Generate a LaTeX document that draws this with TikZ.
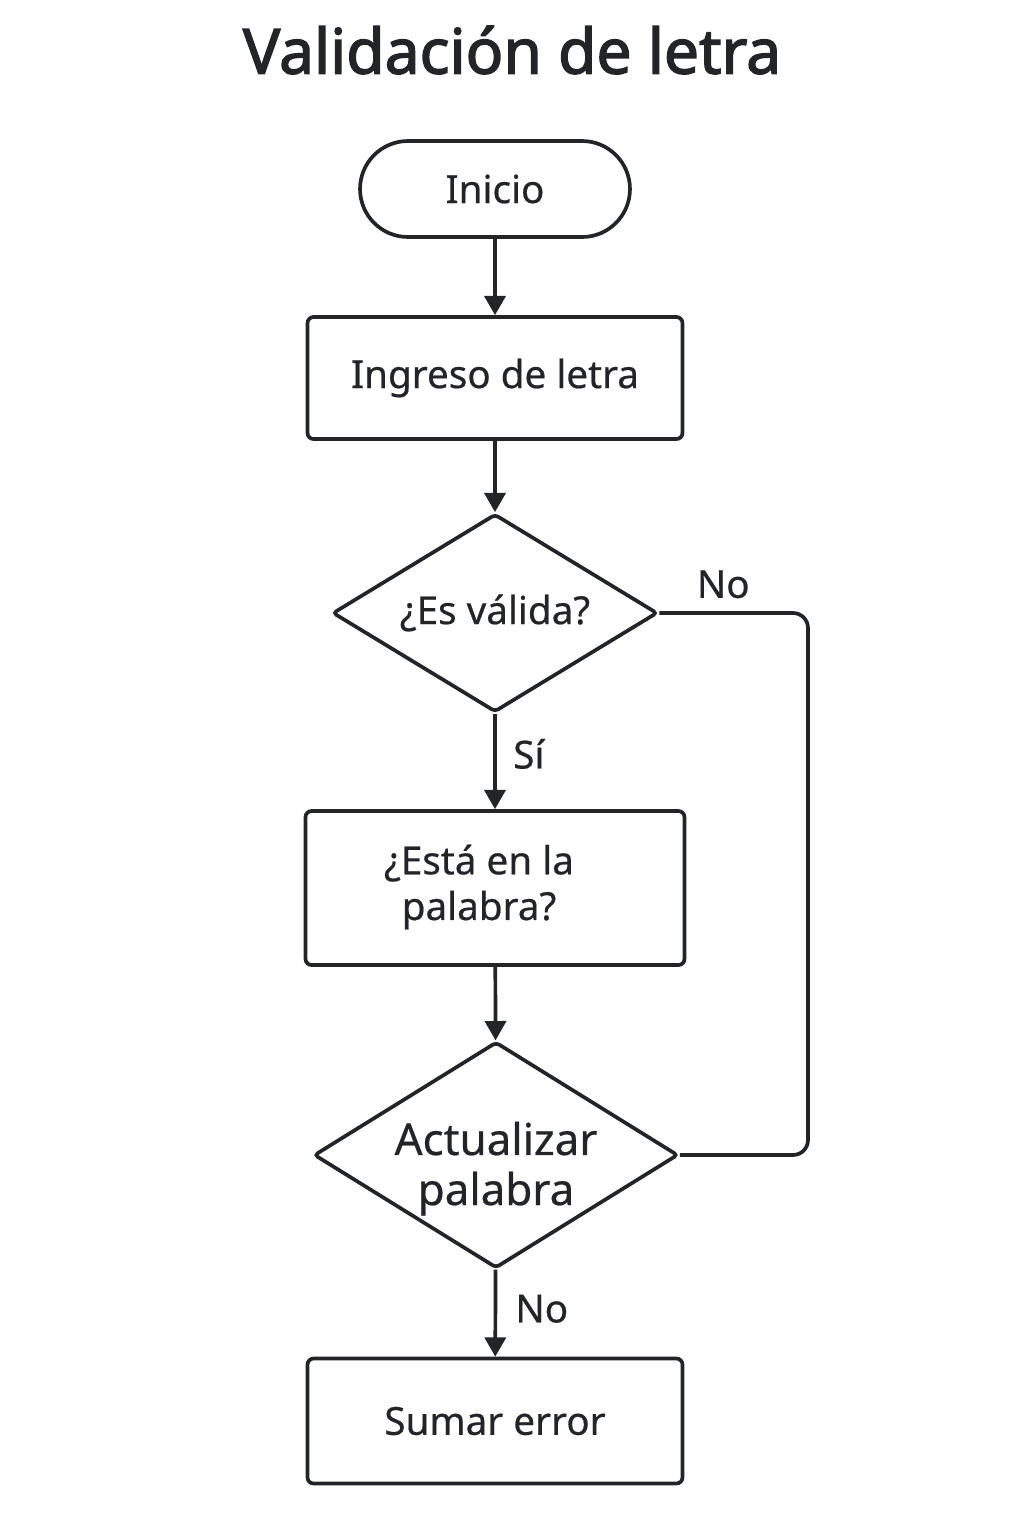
\documentclass[tikz,border=0pt]{standalone}
\usepackage{fontspec}
\setmainfont{Noto Sans}[FakeBold=0.5,UprightFeatures={FakeBold=0.5}]
\newfontfamily\titulofont{Noto Sans}[FakeBold=2.2]
\usetikzlibrary{shapes.geometric,arrows.meta}
\definecolor{trazo}{HTML}{222428}
\tikzset{
  caja/.style={draw=trazo,line width=2.1pt,rounded corners=0.12cm,
    minimum width=7.5cm,text=trazo,align=center,inner sep=0pt},
  rombo/.style={draw=trazo,line width=2.1pt,diamond,rounded corners=2pt,
    inner sep=0pt,text=trazo,align=center},
  flecha/.style={draw=trazo,line width=2.1pt,-{Triangle[length=11pt,width=12pt]}},
  etiqueta/.style={text=trazo,font=\fontsize{22}{26}\selectfont}
}
\begin{document}
\begin{tikzpicture}  % ------ Validacion de letra ---------------
      [x={(0.02cm,0cm)},y={(0cm,-0.02cm)},font=\fontsize{22}{26}\selectfont]
    \useasboundingbox (0,0) rectangle (1024,1536);
    \node[text=trazo,font=\titulofont\fontsize{35.5}{42}\selectfont] (titulo) at (512,50) {Validación de letra};

    \node[caja,minimum width=5.4cm,minimum height=1.92cm,rounded corners=0.96cm] (inicio) at (495,189) {Inicio};
    \node[caja,minimum height=2.44cm] (ingreso) at (495,378) {Ingreso de letra};
    \node[rombo,aspect=1.64,minimum width=6.5cm,minimum height=3.96cm] (valida) at (495,613) {¿Es válida?};
    \node[caja,minimum width=7.58cm,minimum height=3.08cm] (palabra) at (495,888)
        {\kern-0.32cm\begin{tabular}{@{}c@{}}¿Está en la\\ palabra?\end{tabular}\kern0.32cm};
    \node[rombo,aspect=1.61,minimum width=7.26cm,minimum height=4.5cm,font=\fontsize{25}{28.5}\selectfont] (actualizar) at (496,1155)
        {\raisebox{-0.3cm}[\height][\depth]{\begin{tabular}{@{}c@{}}Actualizar\\ palabra\end{tabular}}};
    \node[caja,minimum height=2.5cm] (error) at (495,1421) {Sumar error};
    \coordinate (lazo) at (808,1155);

    \draw[flecha] (inicio) -- (ingreso);
    \draw[flecha] (ingreso) -- (valida);
    \draw[flecha] (valida) -- node[etiqueta,right,pos=0.42,xshift=6pt] {Sí} (palabra);
    \draw[flecha] (palabra) -- (actualizar);
    \draw[flecha] (actualizar) -- node[etiqueta,right,pos=0.45,xshift=7pt] {No} (error);
    \draw[draw=trazo,line width=2.1pt,rounded corners=0.3cm] (valida.east)
        -- node[etiqueta,above,pos=0.43,yshift=4pt] {No} (valida.east -| lazo) -- (lazo) -- (actualizar.east);
\end{tikzpicture}
\end{document}
